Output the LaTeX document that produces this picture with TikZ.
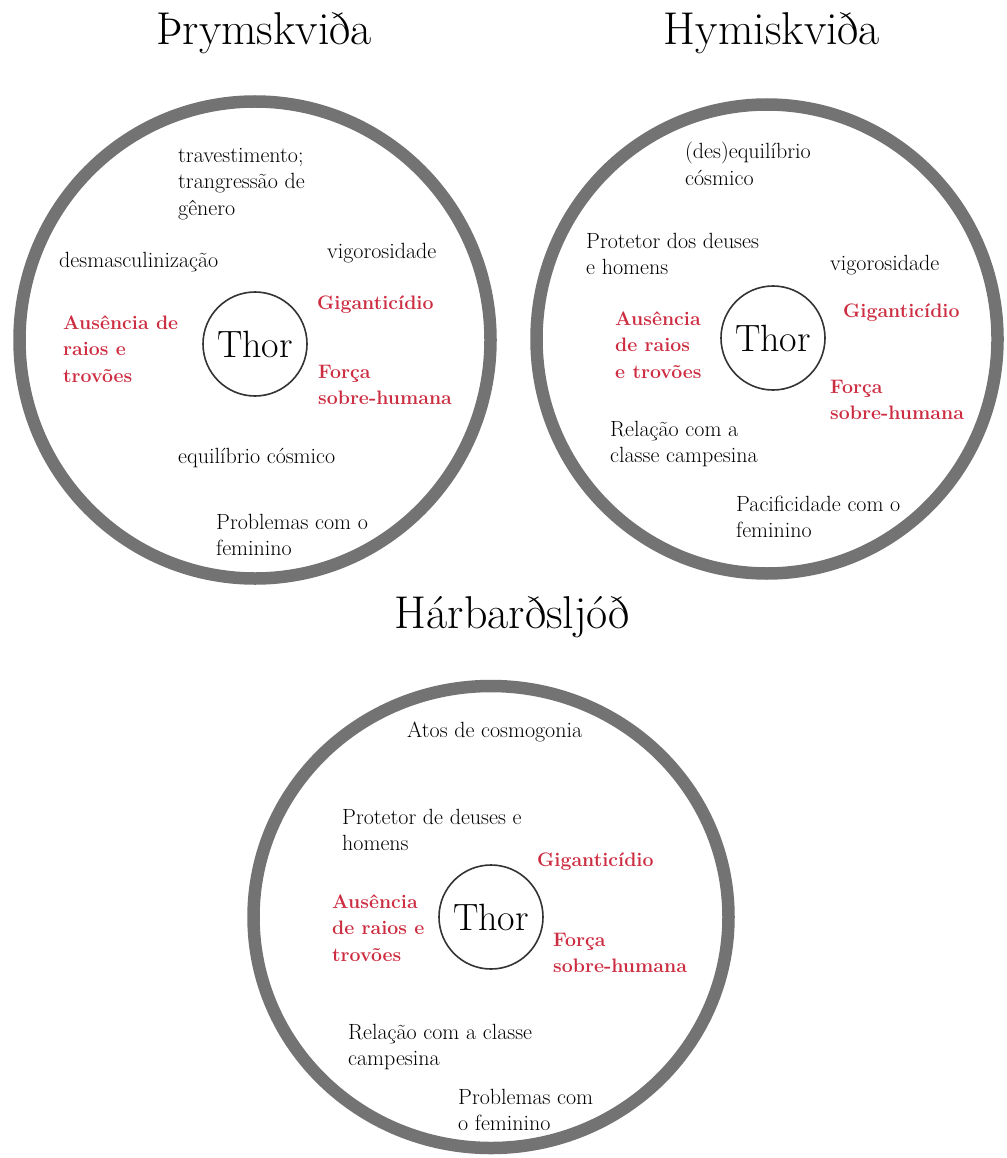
\documentclass[tikz,border=0pt]{standalone}
\usetikzlibrary{shapes.geometric}
\definecolor{ringgray}{RGB}{115,115,115}
\definecolor{thorred}{RGB}{205,45,65}

\begin{document}
\begin{tikzpicture}[x=1pt,y=-1pt,
    poem/.style={anchor=base,inner sep=0pt,font=\fontsize{46}{50}\selectfont},
    ring/.style={draw=ringgray,ellipse,line width=12.5pt,inner sep=0pt},
    thor/.style={draw=black!80,circle,line width=1.6pt,minimum size=104pt,inner sep=0pt,font=\fontsize{38}{40}\selectfont},
    aspect/.style={anchor=west,align=left,inner sep=0pt,font=\fontsize{22}{26.5}\selectfont},
    key aspect/.style={aspect,text=thorred,font=\fontsize{19.5}{26.5}\selectfont\bfseries}]
  \useasboundingbox (0,0) rectangle (1006,1158);

  % titles
  \node[poem] (t1) at (264,45) {Þrymskviða};
  \node[poem] (t2) at (772,45) {Hymiskviða};
  \node[poem] (t3) at (512,628) {Hárbarðsljóð};

  % rings
  \node[ring,minimum width=471pt,minimum height=477pt] (ring1) at (255,340) {};
  \node[ring,minimum width=461pt,minimum height=469pt] (ring2) at (767,339) {};
  \node[ring,minimum width=475pt,minimum height=462pt] (ring3) at (491,917) {};

  \node[thor] (thor1) at (255,344) {Thor};
  \node[thor] (thor2) at (773,338) {Thor};
  \node[thor] (thor3) at (491,917) {Thor};

  % Þrymskviða
  \node[aspect] (trav) at (178,184) {travestimento;\\trangressão de\\gênero};
  \node[aspect] (desm) at (59,262) {desmasculinização};
  \node[aspect] (vig1) at (327,253) {vigorosidade};
  \node[key aspect] (gig1) at (317,305) {Giganticídio};
  \node[key aspect] (aus1) at (63,349) {Ausência de\\raios e\\trovões};
  \node[key aspect] (forca1) at (318,385) {Força\\sobre-humana};
  \node[aspect] (equil) at (178,458) {equilíbrio cósmico};
  \node[aspect] (prob1) at (216,535) {Problemas com o\\feminino};

  % Hymiskviða
  \node[aspect] (deseq) at (685,164) {(des)equilíbrio\\cósmico};
  \node[aspect] (prot2) at (586,254) {Protetor dos deuses\\e homens};
  \node[aspect] (vig2) at (830,265) {vigorosidade};
  \node[key aspect] (aus2) at (615,345) {Ausência\\de raios\\e trovões};
  \node[key aspect] (gig2) at (843,313) {Giganticídio};
  \node[key aspect] (forca2) at (830,400) {Força\\sobre-humana};
  \node[aspect] (rel2) at (610,444) {Relação com a\\classe campesina};
  \node[aspect] (pac) at (736,517) {Pacificidade com o\\feminino};

  % Hárbarðsljóð
  \node[aspect] (atos) at (407,732) {Atos de cosmogonia};
  \node[aspect] (prot3) at (342,830) {Protetor de deuses e\\homens};
  \node[key aspect] (gig3) at (537,862) {Giganticídio};
  \node[key aspect] (aus3) at (332,928) {Ausência\\de raios e\\trovões};
  \node[key aspect] (forca3) at (553,953) {Força\\sobre-humana};
  \node[aspect] (rel3) at (348,1047) {Relação com a classe\\campesina};
  \node[aspect] (prob3) at (458,1110) {Problemas com\\o feminino};
\end{tikzpicture}
\end{document}
